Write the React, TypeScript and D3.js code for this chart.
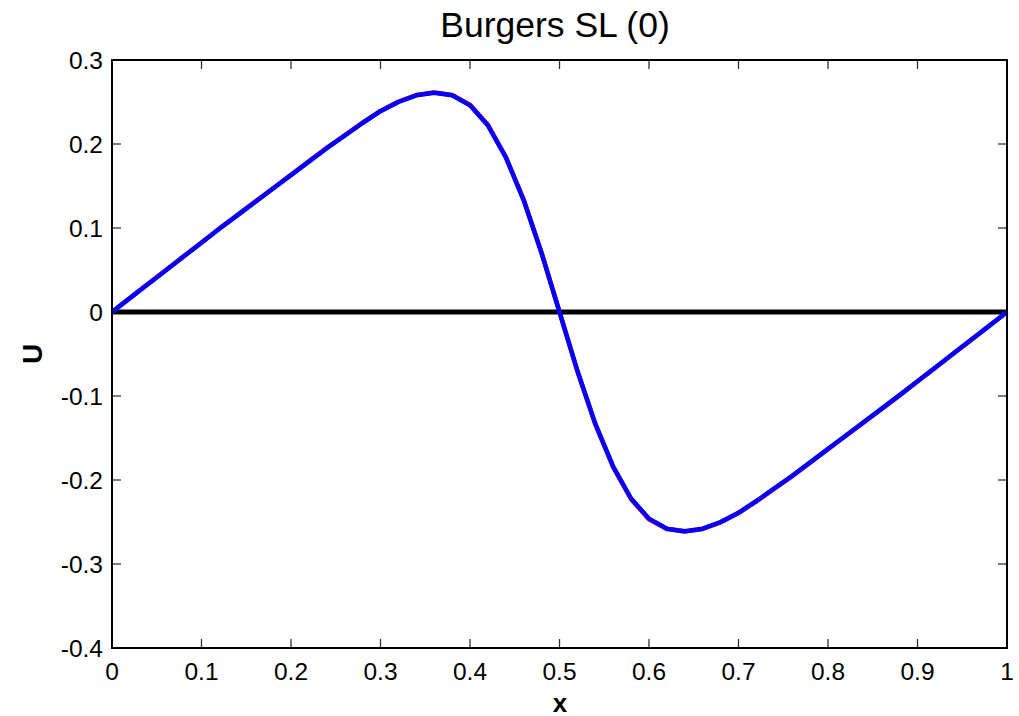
import React from "react";
import { scaleLinear, line } from "d3";

// grid points (x) and the two solutions
const xGrid = [
  0, 0.02, 0.04, 0.06, 0.08, 0.1, 0.12, 0.14, 0.16, 0.18, 0.2, 0.22, 0.24, 0.26, 0.28, 0.3, 0.32, 0.34,
  0.36, 0.38, 0.4, 0.42, 0.44, 0.46, 0.48, 0.5, 0.52, 0.54, 0.56, 0.58, 0.6, 0.62, 0.64, 0.66, 0.68,
  0.7, 0.72, 0.74, 0.76, 0.78, 0.8, 0.82, 0.84, 0.86, 0.88, 0.9, 0.92, 0.94, 0.96, 0.98, 1,
];

const uExact = [
  0, 0.0166, 0.0332, 0.0497, 0.0662, 0.0827, 0.0993, 0.1153, 0.1314, 0.1474, 0.1634, 0.1794, 0.1954,
  0.2104, 0.2254, 0.2393, 0.2505, 0.2583, 0.2612, 0.2583, 0.2468, 0.2228, 0.1848, 0.1338, 0.0705, 0,
  -0.0705, -0.1338, -0.1848, -0.2228, -0.2468, -0.2583, -0.2612, -0.2583, -0.2505, -0.2393, -0.2254,
  -0.2104, -0.1954, -0.1794, -0.1634, -0.1474, -0.1314, -0.1153, -0.0993, -0.0827, -0.0662, -0.0497,
  -0.0332, -0.0166, 0,
];

const uSL = [
  0, 0.0165, 0.033, 0.0495, 0.066, 0.0825, 0.099, 0.115, 0.131, 0.147, 0.163, 0.179, 0.195, 0.21,
  0.225, 0.239, 0.25, 0.258, 0.261, 0.258, 0.246, 0.222, 0.184, 0.133, 0.07, 0, -0.07, -0.133,
  -0.184, -0.222, -0.246, -0.258, -0.261, -0.258, -0.25, -0.239, -0.225, -0.21, -0.195, -0.179,
  -0.163, -0.147, -0.131, -0.115, -0.099, -0.0825, -0.066, -0.0495, -0.033, -0.0165, 0,
];

const zeroLine = [0, 0];
const zeroX = [0, 1];

const xTicks = [0, 0.1, 0.2, 0.3, 0.4, 0.5, 0.6, 0.7, 0.8, 0.9, 1];
const yTicks = [-0.4, -0.3, -0.2, -0.1, 0, 0.1, 0.2, 0.3];

const W = 1019;
const H = 716;
const left = 112;
const right = 1007;
const top = 60;
const bottom = 648;
const font = "'Liberation Sans', Arial, Helvetica, sans-serif";

export default function App() {
  const x = scaleLinear().domain([0, 1]).range([left, right]);
  const y = scaleLinear().domain([-0.4, 0.3]).range([bottom, top]);

  const path = line<[number, number]>()
    .x((d) => x(d[0]))
    .y((d) => y(d[1]));

  const pts = (xs: number[], us: number[]) => xs.map((v, i) => [v, us[i]] as [number, number]);
  const fmt = (v: number) => (v === 0 ? "0" : String(+v.toFixed(1)));

  return (
    <svg
      width={W}
      height={H}
      style={{ position: "absolute", left: 0, top: 0, background: "#fff" }}
      fontFamily={font}
    >
      <rect width={W} height={H} fill="#fff" />

      {/* ticks, inside the box on all four sides */}
      {xTicks.map((t, i) => (
        <g key={"xt" + i} stroke="#333" strokeWidth={1.3}>
          <line x1={x(t)} x2={x(t)} y1={bottom} y2={bottom - 9} />
          <line x1={x(t)} x2={x(t)} y1={top} y2={top + 9} />
        </g>
      ))}
      {yTicks.map((t, i) => (
        <g key={"yt" + i} stroke="#333" strokeWidth={1.3}>
          <line x1={left} x2={left + 9} y1={y(t)} y2={y(t)} />
          <line x1={right} x2={right - 9} y1={y(t)} y2={y(t)} />
        </g>
      ))}

      {/* curves */}
      <path d={path(pts(zeroX, zeroLine)) ?? ""} fill="none" stroke="#000" strokeWidth={5} />
      <path d={path(pts(xGrid, uExact)) ?? ""} fill="none" stroke="#ff0000" strokeWidth={4.5} strokeLinejoin="round" />
      <path d={path(pts(xGrid, uSL)) ?? ""} fill="none" stroke="#0000ff" strokeWidth={4.5} strokeLinejoin="round" />

      {/* box */}
      <rect x={left} y={top} width={right - left} height={bottom - top} fill="none" stroke="#000" strokeWidth={2} />

      {/* tick labels */}
      {xTicks.map((t, i) => (
        <text key={"xl" + i} x={x(t)} y={680} textAnchor="middle" fontSize={24.5} fill="#000">
          {fmt(t)}
        </text>
      ))}
      {yTicks.map((t, i) => (
        <text key={"yl" + i} x={103} y={y(t) + 9} textAnchor="end" fontSize={24.5} fill="#000">
          {fmt(t)}
        </text>
      ))}

      {/* title and axis labels */}
      <text x={555} y={37} textAnchor="middle" fontSize={35.5} fill="#000">
        Burgers SL (0)
      </text>
      <text x={560} y={712} textAnchor="middle" fontSize={26} fontWeight="bold" fill="#000">
        x
      </text>
      <text
        transform={`translate(42,354) rotate(-90)`}
        textAnchor="middle"
        fontSize={28}
        fontWeight="bold"
        fill="#000"
      >
        U
      </text>
    </svg>
  );
}
